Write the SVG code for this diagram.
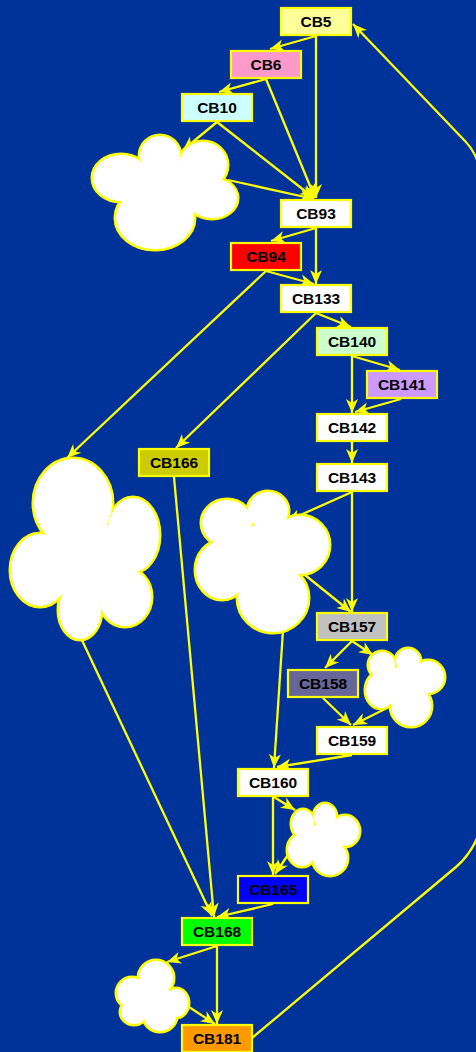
<svg xmlns="http://www.w3.org/2000/svg" xmlns:xlink="http://www.w3.org/1999/xlink" width="476" height="1052" viewBox="0 0 476 1052">
  <style>
    .box { stroke: #ffff00; stroke-width: 2.2; }
    .lbl { font-family: "Liberation Sans", Arial, sans-serif; font-size: 15.5px; font-weight: bold; fill: #000000; text-anchor: middle; }
    .edge { fill: none; stroke: #ffff00; stroke-width: 2.3; marker-end: url(#arrow); }
    .rim { fill: #ffff00; stroke: #ffff00; stroke-width: 5; }
    .body { fill: #ffffff; stroke: none; }
  </style>
  <defs>
    <marker id="arrow" viewBox="-15 -7 16 14" refX="0" refY="0" markerWidth="16" markerHeight="14" markerUnits="userSpaceOnUse" orient="auto">
      <path d="M0,0 L-14,-6 L-10,0 L-14,6 Z" fill="#ffff00"/>
    </marker>
    <!-- cloud outlines built from overlapping lobes -->
    <g id="lobes1">
      <ellipse cx="121" cy="178" rx="28" ry="23"/>
      <ellipse cx="160" cy="156" rx="20" ry="20"/>
      <ellipse cx="203" cy="165" rx="24" ry="23"/>
      <ellipse cx="212" cy="198" rx="25" ry="20"/>
      <ellipse cx="155" cy="218" rx="39" ry="31"/>
      <ellipse cx="165" cy="190" rx="40" ry="30"/>
    </g>
    <g id="lobes2">
      <ellipse cx="227" cy="523" rx="25" ry="23"/>
      <ellipse cx="268" cy="511" rx="20" ry="19"/>
      <ellipse cx="300" cy="545" rx="29" ry="29"/>
      <ellipse cx="273" cy="598" rx="35" ry="34"/>
      <ellipse cx="222" cy="570" rx="26" ry="29"/>
      <ellipse cx="262" cy="560" rx="40" ry="35"/>
    </g>
    <g id="lobesL">
      <ellipse cx="73" cy="503" rx="39" ry="44"/>
      <ellipse cx="133" cy="535" rx="26" ry="37"/>
      <ellipse cx="125" cy="597" rx="26" ry="29"/>
      <ellipse cx="80" cy="610" rx="21" ry="29"/>
      <ellipse cx="40" cy="570" rx="29" ry="36"/>
      <ellipse cx="85" cy="560" rx="45" ry="40"/>
    </g>
    <g id="lobes3">
      <ellipse cx="382" cy="665" rx="13" ry="13"/>
      <ellipse cx="408" cy="661" rx="12" ry="12"/>
      <ellipse cx="428" cy="677" rx="16" ry="16"/>
      <ellipse cx="411" cy="706" rx="20" ry="20"/>
      <ellipse cx="381" cy="690" rx="15" ry="18"/>
      <ellipse cx="405" cy="686" rx="22" ry="20"/>
    </g>
    <g id="lobes4">
      <ellipse cx="303" cy="824" rx="11" ry="14"/>
      <ellipse cx="325" cy="817" rx="11" ry="13"/>
      <ellipse cx="345" cy="831" rx="14" ry="15"/>
      <ellipse cx="330" cy="858" rx="17" ry="17"/>
      <ellipse cx="302" cy="850" rx="14" ry="16"/>
      <ellipse cx="322" cy="840" rx="18" ry="16"/>
    </g>
    <g id="lobes5">
      <ellipse cx="156" cy="978" rx="17" ry="17"/>
      <ellipse cx="176" cy="1003" rx="12" ry="14"/>
      <ellipse cx="160" cy="1016" rx="16" ry="15"/>
      <ellipse cx="134" cy="1012" rx="13" ry="12"/>
      <ellipse cx="132" cy="993" rx="15" ry="15"/>
      <ellipse cx="152" cy="1000" rx="20" ry="18"/>
    </g>
  </defs>

  <rect x="0" y="0" width="476" height="1052" fill="#003399"/>

  <g id="connectors">
    <line class="edge" x1="316" y1="36" x2="270" y2="49"/>
    <line class="edge" x1="316" y1="36" x2="316" y2="198"/>
    <line class="edge" x1="266" y1="79" x2="219" y2="92"/>
    <line class="edge" x1="266" y1="79" x2="315" y2="198"/>
    <line class="edge" x1="217" y1="122" x2="183" y2="150"/>
    <line class="edge" x1="217" y1="122" x2="314" y2="198"/>
    <line class="edge" x1="228" y1="180" x2="314" y2="199"/>
    <line class="edge" x1="316" y1="228" x2="271" y2="241"/>
    <line class="edge" x1="316" y1="228" x2="316" y2="284"/>
    <line class="edge" x1="266" y1="271" x2="314" y2="284"/>
    <line class="edge" x1="266" y1="271" x2="67" y2="458"/>
    <line class="edge" x1="316" y1="313" x2="351" y2="327"/>
    <line class="edge" x1="316" y1="313" x2="176" y2="448"/>
    <line class="edge" x1="352" y1="356" x2="400" y2="370"/>
    <line class="edge" x1="352" y1="356" x2="352" y2="413"/>
    <line class="edge" x1="401" y1="399" x2="355" y2="412"/>
    <line class="edge" x1="352" y1="442" x2="352" y2="463"/>
    <line class="edge" x1="352" y1="492" x2="287" y2="521"/>
    <line class="edge" x1="352" y1="492" x2="352" y2="612"/>
    <line class="edge" x1="305" y1="575" x2="351" y2="612"/>
    <line class="edge" x1="352" y1="641" x2="325" y2="668"/>
    <line class="edge" x1="352" y1="641" x2="373" y2="655"/>
    <line class="edge" x1="323" y1="698" x2="351" y2="725"/>
    <line class="edge" x1="387" y1="708" x2="353" y2="725"/>
    <line class="edge" x1="352" y1="755" x2="277" y2="767"/>
    <line class="edge" x1="283" y1="630" x2="274" y2="768"/>
    <line class="edge" x1="274" y1="797" x2="295" y2="810"/>
    <line class="edge" x1="273" y1="797" x2="273" y2="875"/>
    <line class="edge" x1="290" y1="852" x2="275" y2="874"/>
    <line class="edge" x1="273" y1="904" x2="217" y2="917"/>
    <line class="edge" x1="174" y1="477" x2="214" y2="917"/>
    <line class="edge" x1="80" y1="636" x2="212" y2="916"/>
    <line class="edge" x1="217" y1="946" x2="167" y2="962"/>
    <line class="edge" x1="217" y1="946" x2="217" y2="1024"/>
    <line class="edge" x1="189" y1="1007" x2="215" y2="1024"/>
    <path class="edge" d="M252,1038 L456,867 Q478,848 484,815 L484,185 Q479,155 465,141 L353,24"/>
  </g>

  <g id="cloud1"><use xlink:href="#lobes1" class="rim"/><use xlink:href="#lobes1" class="body"/></g>
  <g id="cloud2"><use xlink:href="#lobes2" class="rim"/><use xlink:href="#lobes2" class="body"/></g>
  <g id="cloud-left"><use xlink:href="#lobesL" class="rim"/><use xlink:href="#lobesL" class="body"/></g>
  <g id="cloud3"><use xlink:href="#lobes3" class="rim"/><use xlink:href="#lobes3" class="body"/></g>
  <g id="cloud4"><use xlink:href="#lobes4" class="rim"/><use xlink:href="#lobes4" class="body"/></g>
  <g id="cloud5"><use xlink:href="#lobes5" class="rim"/><use xlink:href="#lobes5" class="body"/></g>

  <g id="CB5"><rect class="box" x="281" y="8" width="70" height="27" fill="#ffff99"/><text class="lbl" x="316" y="27">CB5</text></g>
  <g id="CB6"><rect class="box" x="231" y="51" width="70" height="27" fill="#ff99cc"/><text class="lbl" x="266" y="70">CB6</text></g>
  <g id="CB10"><rect class="box" x="182" y="94" width="70" height="27" fill="#ccffff"/><text class="lbl" x="217" y="113">CB10</text></g>
  <g id="CB93"><rect class="box" x="281" y="200" width="70" height="27" fill="#ffffff"/><text class="lbl" x="316" y="219">CB93</text></g>
  <g id="CB94"><rect class="box" x="231" y="243" width="70" height="27" fill="#ff0000"/><text class="lbl" x="266" y="262">CB94</text></g>
  <g id="CB133"><rect class="box" x="281" y="285" width="70" height="27" fill="#ffffff"/><text class="lbl" x="316" y="304">CB133</text></g>
  <g id="CB140"><rect class="box" x="317" y="328" width="70" height="27" fill="#ccffcc"/><text class="lbl" x="352" y="347">CB140</text></g>
  <g id="CB141"><rect class="box" x="367" y="371" width="70" height="27" fill="#cc99ff"/><text class="lbl" x="402" y="390">CB141</text></g>
  <g id="CB142"><rect class="box" x="317" y="414" width="70" height="27" fill="#ffffff"/><text class="lbl" x="352" y="433">CB142</text></g>
  <g id="CB143"><rect class="box" x="317" y="464" width="70" height="27" fill="#ffffff"/><text class="lbl" x="352" y="483">CB143</text></g>
  <g id="CB166"><rect class="box" x="139" y="449" width="70" height="27" fill="#cccc00"/><text class="lbl" x="174" y="468">CB166</text></g>
  <g id="CB157"><rect class="box" x="317" y="613" width="70" height="27" fill="#c0c0c0"/><text class="lbl" x="352" y="632">CB157</text></g>
  <g id="CB158"><rect class="box" x="288" y="670" width="70" height="27" fill="#666699"/><text class="lbl" x="323" y="689">CB158</text></g>
  <g id="CB159"><rect class="box" x="317" y="727" width="70" height="27" fill="#ffffff"/><text class="lbl" x="352" y="746">CB159</text></g>
  <g id="CB160"><rect class="box" x="238" y="769" width="70" height="27" fill="#ffffff"/><text class="lbl" x="273" y="788">CB160</text></g>
  <g id="CB165"><rect class="box" x="238" y="876" width="70" height="27" fill="#0000ff"/><text class="lbl" x="273" y="895">CB165</text></g>
  <g id="CB168"><rect class="box" x="182" y="918" width="70" height="27" fill="#00ff00"/><text class="lbl" x="217" y="937">CB168</text></g>
  <g id="CB181"><rect class="box" x="182" y="1025" width="70" height="27" fill="#ff9900"/><text class="lbl" x="217" y="1044">CB181</text></g>
</svg>
